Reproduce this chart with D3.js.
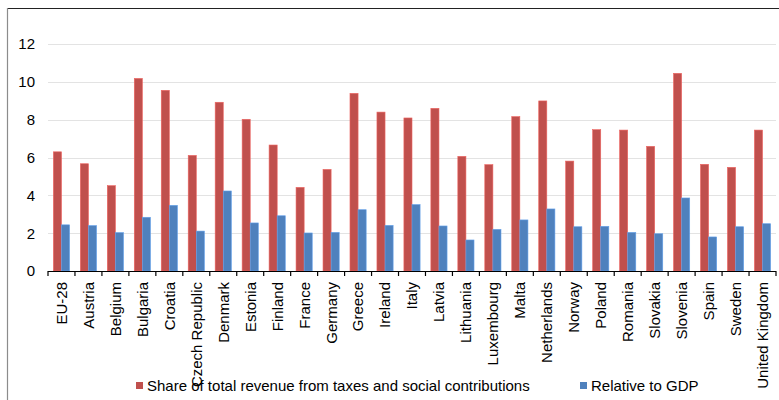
<!DOCTYPE html>
<html>
<head>
<meta charset="utf-8">
<script src="https://cdn.jsdelivr.net/npm/d3@7"></script>
<style>
  html, body { margin: 0; padding: 0; background: #fff; }
  svg { display: block; font-family: "Liberation Sans", Arial, sans-serif; }
</style>
</head>
<body>
<svg id="chart" width="779" height="400"></svg>
<script>
// Environmental tax revenue by country
const countries = ["EU-28", "Austria", "Belgium", "Bulgaria", "Croatia", "Czech Republic",
  "Denmark", "Estonia", "Finland", "France", "Germany", "Greece", "Ireland", "Italy",
  "Latvia", "Lithuania", "Luxembourg", "Malta", "Netherlands", "Norway", "Poland",
  "Romania", "Slovakia", "Slovenia", "Spain", "Sweden", "United Kingdom"];

const shareOfRevenue = [6.3, 5.67, 4.51, 10.18, 9.55, 6.11, 8.92, 8.02, 6.66, 4.42, 5.37,
  9.39, 8.40, 8.09, 8.60, 6.06, 5.62, 8.16, 8.99, 5.81, 7.47, 7.45, 6.59, 10.45, 5.64, 5.48, 7.45];

const relativeToGDP = [2.44, 2.40, 2.03, 2.84, 3.47, 2.11, 4.23, 2.54, 2.92, 2.01, 2.04,
  3.24, 2.41, 3.51, 2.38, 1.64, 2.20, 2.70, 3.28, 2.34, 2.36, 2.04, 1.97, 3.86, 1.80, 2.34, 2.50];

const seriesNames = ["Share of total revenue from taxes and social contributions", "Relative to GDP"];
const seriesColors = ["#C0504D", "#4F81BD"];
const yTicks = [0, 2, 4, 6, 8, 10, 12];

const svg = d3.select("#chart");
const fontSize = 15;

// outer frame
svg.append("line").attr("x1", 7.5).attr("x2", 779).attr("y1", 8.5).attr("y2", 8.5)
  .attr("stroke", "#222").attr("stroke-width", 1.2);
svg.append("line").attr("x1", 7.5).attr("x2", 7.5).attr("y1", 8).attr("y2", 400)
  .attr("stroke", "#8c8c8c").attr("stroke-width", 1.2);

const plotLeft = 48, plotRight = 776, plotTop = 44, plotBottom = 271;

const x = d3.scaleBand().domain(countries).range([plotLeft, plotRight]).paddingInner(0.4).paddingOuter(0.2);
const xs = d3.scaleBand().domain([0, 1]).range([0, x.bandwidth()]);
const y = d3.scaleLinear().domain([0, 12]).range([plotBottom, plotTop]);

// gridlines
svg.append("g").selectAll("line").data(yTicks.filter(d => d > 0)).join("line")
  .attr("x1", plotLeft).attr("x2", plotRight)
  .attr("y1", d => Math.round(y(d)) + 0.5).attr("y2", d => Math.round(y(d)) + 0.5)
  .attr("stroke", "#e3e3e3").attr("stroke-width", 1);

// y-axis labels
svg.append("g").selectAll("text").data(yTicks).join("text")
  .attr("x", 35).attr("y", d => y(d)).attr("dy", "0.36em")
  .attr("text-anchor", "end").attr("font-size", fontSize).attr("fill", "#000")
  .text(d => d);

// bars
const data = countries.map((c, i) => ({ c, v: [shareOfRevenue[i], relativeToGDP[i]] }));
const groups = svg.append("g").selectAll("g").data(data).join("g")
  .attr("transform", d => `translate(${x(d.c)},0)`);
groups.selectAll("rect").data(d => d.v.map((v, k) => ({ v, k }))).join("rect")
  .attr("x", d => xs(d.k)).attr("width", xs.bandwidth())
  .attr("y", d => y(d.v)).attr("height", d => y(0) - y(d.v))
  .attr("fill", d => seriesColors[d.k])
  .attr("stroke", d => d3.color(seriesColors[d.k]).brighter(0.6)).attr("stroke-width", 0.6);

// x axis with ticks at category boundaries
const xAxis = svg.append("g");
xAxis.append("line").attr("x1", plotLeft).attr("x2", plotRight)
  .attr("y1", plotBottom + 0.5).attr("y2", plotBottom + 0.5).attr("stroke", "#000").attr("stroke-width", 1.2);
const boundaries = d3.range(countries.length + 1)
  .map(i => plotLeft + i * (plotRight - plotLeft) / countries.length);
xAxis.selectAll("line.tick").data(boundaries).join("line").attr("class", "tick")
  .attr("x1", d => d).attr("x2", d => d).attr("y1", plotBottom).attr("y2", plotBottom + 5)
  .attr("stroke", "#000").attr("stroke-width", 1.2);

xAxis.selectAll("text").data(countries).join("text")
  .attr("transform", d => `translate(${x(d) + x.bandwidth() / 2},${plotBottom + 11}) rotate(-90)`)
  .attr("text-anchor", "end").attr("dy", "0.36em")
  .attr("font-size", fontSize).attr("fill", "#000")
  .text(d => d);

// legend
const legend = svg.append("g");
const legendPos = [136, 580];
seriesNames.forEach((name, k) => {
  legend.append("rect").attr("x", legendPos[k]).attr("y", 382).attr("width", 7).attr("height", 7)
    .attr("fill", seriesColors[k]);
  legend.append("text").attr("x", legendPos[k] + 11).attr("y", 391)
    .attr("font-size", fontSize).attr("fill", "#000").text(name);
});
</script>
</body>
</html>
